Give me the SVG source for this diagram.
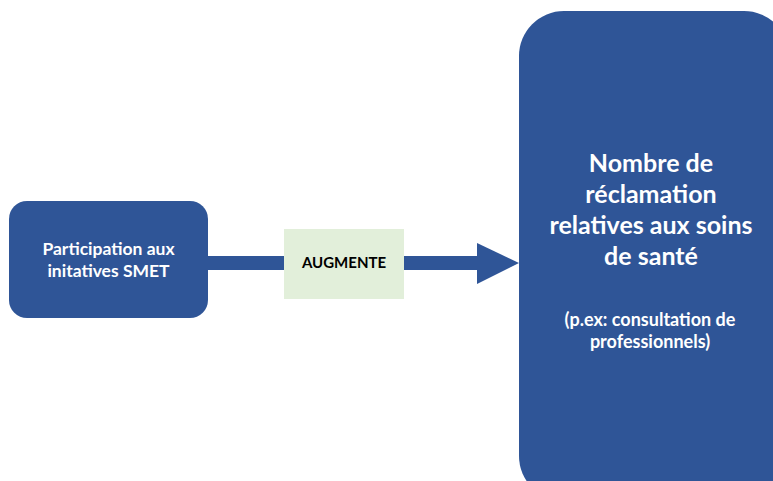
<svg xmlns="http://www.w3.org/2000/svg" width="773" height="481" viewBox="0 0 773 481">
  <style>
    .box { fill: #2F5597; }
    .lbl { font-family: Lato, "Open Sans", "Liberation Sans", sans-serif; font-weight: bold; fill: #ffffff; text-anchor: middle; }
    .tag { font-family: Lato, "Open Sans", "Liberation Sans", sans-serif; font-weight: bold; fill: #000000; text-anchor: middle; font-size: 15px; }
  </style>
  <rect width="773" height="481" fill="#ffffff"/>

  <!-- connector: thick arrow with label box -->
  <g id="connectors">
    <rect x="206" y="256" width="272" height="14" fill="#2F5597"/>
    <polygon points="477,243 519,263 477,284" fill="#2F5597"/>
    <g id="edge-label">
      <rect x="284" y="229" width="120" height="70" fill="#E2EFDA"/>
      <text class="tag" x="344" y="268">AUGMENTE</text>
    </g>
  </g>

  <g id="participation">
    <rect class="box" x="9" y="201" width="199" height="117" rx="18" ry="18"/>
    <text class="lbl" font-size="17.5" x="108.5" y="255">Participation aux</text>
    <text class="lbl" font-size="17.5" x="108.5" y="277">initatives SMET</text>
  </g>

  <g id="reclamations">
    <rect class="box" x="519" y="11" width="270" height="490" rx="45" ry="45"/>
    <text class="lbl" font-size="25" x="651" y="172">Nombre de</text>
    <text class="lbl" font-size="25" x="651" y="203">réclamation</text>
    <text class="lbl" font-size="25" x="651" y="234">relatives aux soins</text>
    <text class="lbl" font-size="25" x="651" y="265">de santé</text>
    <text class="lbl" font-size="18" x="650" y="326">(p.ex: consultation de</text>
    <text class="lbl" font-size="18" x="650" y="348">professionnels)</text>
  </g>
</svg>
